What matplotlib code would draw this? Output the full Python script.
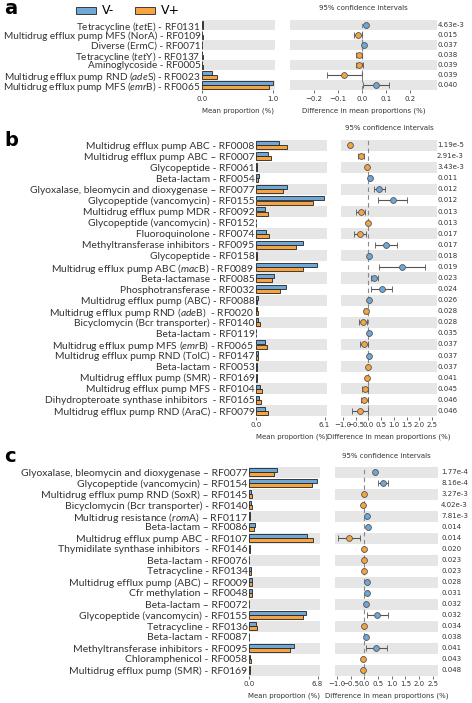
import matplotlib
matplotlib.use("Agg")
import matplotlib.pyplot as plt
from matplotlib.patches import Rectangle

plt.rcParams['mathtext.fontset'] = 'custom'
plt.rcParams['mathtext.rm'] = 'Lato'
plt.rcParams['mathtext.it'] = 'Lato:italic'

W, H = 472, 703
BLUE = '#6fa8d6'
ORANGE = '#f6a441'
STRIPE = '#e6e6e6'
LABEL_FONT = 'Lato'
ND = '\u2013'  # en dash used in some labels

# ---- panel a ----
a_labels = [r"Tetracycline ($\mathit{tet}$E) - RF0131",
            "Multidrug efflux pump MFS (NorA) - RF0109",
            "Diverse (ErmC) - RF0071",
            r"Tetracycline ($\mathit{tet}$Y) - RF0137",
            "Aminoglycoside - RF0005",
            r"Multidrug efflux pump RND ($\mathit{ade}$S) - RF0023",
            r"Multidrug efflux pump MFS ($\mathit{emr}$B) - RF0065"]
a_vneg = [0.012, 0.005, 0.006, 0.005, 0.005, 0.146, 1.0]
a_vpos = [0.010, 0.014, 0.002, 0.016, 0.016, 0.215, 0.946]
a_diff = [0.014, -0.017, 0.005, -0.014, -0.012, -0.075, 0.058]
a_lo = [0.010, -0.033, 0.002, -0.028, -0.027, -0.146, 0.004]
a_hi = [0.018, -0.003, 0.008, 0.000, 0.001, -0.003, 0.110]
a_p = ["4.63e-3", "0.015", "0.037", "0.038", "0.039", "0.039", "0.040"]

# ---- panel b ----
b_labels = ["Multidrug efflux pump ABC - RF0008",
            "Multidrug efflux pump ABC " + ND + " RF0007",
            "Glycopeptide - RF0061",
            "Beta-lactam - RF0054",
            "Glyoxalase, bleomycin and dioxygenase " + ND + " RF0077",
            "Glycopeptide (vancomycin) - RF0155",
            "Multidrug efflux pump MDR - RF0092",
            "Glycopeptide (vancomycin) - RF0152",
            "Fluoroquinolone - RF0074",
            "Methyltransferase inhibitors - RF0095",
            "Glycopeptide - RF0158",
            r"Multidrug efflux pump ABC ($\mathit{mac}$B) - RF0089",
            "Beta-lactamase - RF0085",
            "Phosphotransferase - RF0032",
            "Multidrug efflux pump (ABC) - RF0088",
            r"Multidrug efflux pump RND ($\mathit{ade}$B)  - RF0020",
            "Bicyclomycin (Bcr transporter) - RF0140",
            "Beta-lactam - RF0119",
            r"Multidrug efflux pump MFS ($\mathit{emr}$B) - RF0065",
            "Multidrug efflux pump RND (TolC) - RF0147",
            "Beta-lactam - RF0053",
            "Multidrug efflux pump (SMR) - RF0169",
            "Multidrug efflux pump MFS - RF0104",
            "Dihydropteroate synthase inhibitors  - RF0165",
            "Multidrug efflux pump RND (AraC) - RF0079"]
b_vneg = [2.08, 1.03, 0.09, 0.23, 2.79, 6.01, 0.82, 0.03, 0.88, 4.19, 0.09, 5.40, 1.58,
          2.64, 0.15, 0.08, 0.15, 0.03, 0.82, 0.17, 0.05, 0.05, 0.38, 0.30, 0.82]
b_vpos = [2.73, 1.29, 0.12, 0.18, 2.38, 5.07, 1.09, 0.03, 1.14, 3.55, 0.06, 4.14, 1.41,
          2.14, 0.12, 0.20, 0.35, 0.02, 1.00, 0.14, 0.08, 0.10, 0.53, 0.44, 1.11]
b_diff = [-0.73, -0.30, -0.05, 0.07, 0.41, 0.95, -0.28, -0.02, -0.33, 0.68, 0.03, 1.33, 0.22,
          0.52, 0.03, -0.11, -0.20, 0.01, -0.18, 0.03, -0.03, -0.06, -0.14, -0.16, -0.33]
b_lo = [-0.76, -0.40, -0.08, 0.04, 0.23, 0.39, -0.47, -0.04, -0.56, 0.24, 0.01, 0.43, 0.09,
        0.12, 0.00, -0.16, -0.39, -0.01, -0.32, 0.00, -0.06, -0.09, -0.27, -0.30, -0.64]
b_hi = [-0.70, -0.19, -0.02, 0.10, 0.65, 1.53, -0.13, 0.00, -0.11, 1.11, 0.05, 2.24, 0.39,
        0.91, 0.06, -0.06, -0.05, 0.03, -0.03, 0.06, 0.00, -0.03, 0.00, -0.02, -0.01]
b_p = ["1.19e-5", "2.91e-3", "3.43e-3", "0.011", "0.012", "0.012", "0.013", "0.013", "0.017",
       "0.017", "0.018", "0.019", "0.023", "0.024", "0.026", "0.028", "0.028", "0.035",
       "0.037", "0.037", "0.037", "0.041", "0.045", "0.046", "0.046"]

# ---- panel c ----
c_labels = ["Glyoxalase, bleomycin and dioxygenase " + ND + " RF0077",
            "Glycopeptide (vancomycin) " + ND + " RF0154",
            "Multidrug efflux pump RND (SoxR) " + ND + " RF0145",
            "Bicyclomycin (Bcr transporter) - RF0140",
            r"Multidrug resistance ($\mathit{rom}$A) " + ND + " RF0117",
            "Beta-lactam " + ND + " RF0086",
            "Multidrug efflux pump ABC - RF0107",
            "Thymidilate synthase inhibitors  - RF0146",
            "Beta-lactam - RF0076",
            "Tetracycline - RF0134",
            "Multidrug efflux pump (ABC) " + ND + " RF0009",
            "Cfr methylation " + ND + " RF0048",
            "Beta-lactam " + ND + " RF0072",
            "Glycopeptide (vancomycin) - RF0155",
            "Tetracycline - RF0136",
            "Beta-lactam - RF0087",
            "Methyltransferase inhibitors - RF0095",
            "Chloramphenicol - RF0058",
            "Multidrug efflux pump (SMR) - RF0169"]
c_vneg = [2.74, 6.73, 0.20, 0.20, 0.07, 0.56, 5.78, 0.10, 0.03, 0.17, 0.33, 0.33, 0.03,
          5.68, 0.73, 0.03, 4.46, 0.12, 0.06]
c_vpos = [2.44, 6.20, 0.26, 0.30, 0.05, 0.50, 6.31, 0.13, 0.04, 0.23, 0.26, 0.30, 0.02,
          5.31, 0.79, 0.02, 4.09, 0.20, 0.10]
c_diff = [0.38, 0.67, -0.02, -0.06, 0.09, 0.13, -0.58, -0.03, -0.02, -0.03, 0.11, 0.11, 0.05,
          0.47, -0.02, 0.04, 0.44, -0.06, -0.06]
c_lo = [0.35, 0.50, -0.04, -0.09, 0.07, 0.10, -0.97, -0.05, -0.04, -0.05, 0.08, 0.08, 0.03,
        0.10, -0.05, 0.02, 0.04, -0.09, -0.09]
c_hi = [0.41, 0.85, 0.00, -0.03, 0.11, 0.16, -0.18, -0.01, 0.00, -0.01, 0.14, 0.14, 0.07,
        0.88, 0.01, 0.06, 0.82, -0.03, -0.03]
c_p = ["1.77e-4", "8.16e-4", "3.27e-3", "4.02e-3", "7.81e-3", "0.014", "0.014", "0.020",
       "0.023", "0.023", "0.028", "0.031", "0.032", "0.032", "0.034", "0.038", "0.041",
       "0.043", "0.048"]


def px_rect(x0, x1, ytop, ybot):
    return [x0 / W, 1 - ybot / H, (x1 - x0) / W, (ybot - ytop) / H]


def panel(fig, letter, labels, vneg, vpos, diff, lo, hi, pvals, ytop, ybot,
          bx, dx, bar_max, dlim, dticks, label_size, p_x, letter_y, title_y):
    n = len(labels)
    # bar part
    ax = fig.add_axes(px_rect(bx[0], bx[1], ytop, ybot))
    ax.set_ylim(n - 0.5, -0.5)
    ax.set_xlim(0, bar_max * 1.035)
    for i in range(n):
        if i % 2 == 0:
            ax.axhspan(i - 0.5, i + 0.5, color=STRIPE, lw=0, zorder=0)
    ys = list(range(n))
    ax.barh([y - 0.19 for y in ys], vneg, height=0.36, color=BLUE, edgecolor='#222222', lw=0.6, zorder=2)
    ax.barh([y + 0.19 for y in ys], vpos, height=0.36, color=ORANGE, edgecolor='#222222', lw=0.6, zorder=2)
    ax.set_yticks(ys)
    ax.set_yticklabels(labels, fontsize=label_size, family=LABEL_FONT, color='#333333')
    ax.tick_params(axis='y', length=0, pad=1)
    ax.set_xticks([0, bar_max])
    ax.set_xticklabels(["0.0", f"{bar_max:.1f}"])
    ax.tick_params(axis='x', labelsize=5, length=2, width=0.5, pad=2, colors='#333333')
    for s in ax.spines.values():
        s.set_visible(False)
    ax.set_xlabel("Mean proportion (%)", fontsize=5, labelpad=4, color='#333333')

    # difference part
    ax2 = fig.add_axes(px_rect(dx[0], dx[1], ytop, ybot))
    ax2.set_ylim(n - 0.5, -0.5)
    ax2.set_xlim(*dlim)
    for i in range(n):
        if i % 2 == 0:
            ax2.axhspan(i - 0.5, i + 0.5, color=STRIPE, lw=0, zorder=0)
    ax2.axvline(0, color='#888888', lw=0.8, ls=(0, (4, 3)), zorder=1)
    for i in range(n):
        col = BLUE if diff[i] > 0 else ORANGE
        ax2.errorbar(diff[i], i, xerr=[[diff[i] - lo[i]], [hi[i] - diff[i]]], fmt='o',
                     ms=4.2, mfc=col, mec='#555555', mew=0.6, ecolor='#555555',
                     elinewidth=0.8, capsize=2, capthick=0.8, zorder=3)
        ax2.text(p_x, i, pvals[i], transform=ax2.get_yaxis_transform(), fontsize=5,
                 va='center', ha='left', color='#333333')
    ax2.set_yticks([])
    ax2.set_xticks(dticks)
    ax2.set_xticklabels([f"{t:.1f}".replace('-', '\u2212') for t in dticks])
    ax2.tick_params(axis='x', labelsize=5, length=2, width=0.5, pad=2, colors='#333333')
    for s in ax2.spines.values():
        s.set_visible(False)
    ax2.set_xlabel("Difference in mean proportions (%)", fontsize=5, labelpad=4, color='#333333')
    fig.text((dx[0] + dx[1]) / 2 / W, 1 - title_y / H, "95% confidence intervals",
             fontsize=5, ha='center', va='center', color='#333333')
    fig.text(4 / W, 1 - letter_y / H, letter, fontsize=14, fontweight='bold',
             ha='left', va='center')


fig = plt.figure(figsize=(W / 100, H / 100), dpi=100)

panel(fig, "a", a_labels, a_vneg, a_vpos, a_diff, a_lo, a_hi, a_p, 20, 90,
      (202, 275), (290, 437), 1.0, (-0.30, 0.31), [-0.2, -0.1, 0.0, 0.1, 0.2],
      7.2, 1.005, 9, 8)
panel(fig, "b", b_labels, b_vneg, b_vpos, b_diff, b_lo, b_hi, b_p, 139.5, 416.5,
      (256, 327), (341, 437), 6.1, (-1.08, 2.70), [-1.0, -0.5, 0, 0.5, 1.0, 1.5, 2.0, 2.5],
      7.4, 1.0, 140, 128)
panel(fig, "c", c_labels, c_vneg, c_vpos, c_diff, c_lo, c_hi, c_p, 466.5, 675.5,
      (249, 320), (335, 438), 6.8, (-1.08, 2.70), [-1.0, -0.5, 0, 0.5, 1.0, 1.5, 2.0, 2.5],
      7.5, 1.03, 457, 456)

# legend for group colours
leg = [Rectangle((0, 0), 1, 1, facecolor=BLUE, edgecolor='#222222', lw=0.6),
       Rectangle((0, 0), 1, 1, facecolor=ORANGE, edgecolor='#222222', lw=0.6)]
fig.legend(leg, ["V-", "V+"], loc='center left', bbox_to_anchor=(76 / W, 1 - 11 / H),
           ncol=2, frameon=False, fontsize=9, handlelength=1.6, handleheight=0.5,
           columnspacing=1.6, handletextpad=0.5, borderaxespad=0, borderpad=0)

fig.savefig("out.png", dpi=100)
